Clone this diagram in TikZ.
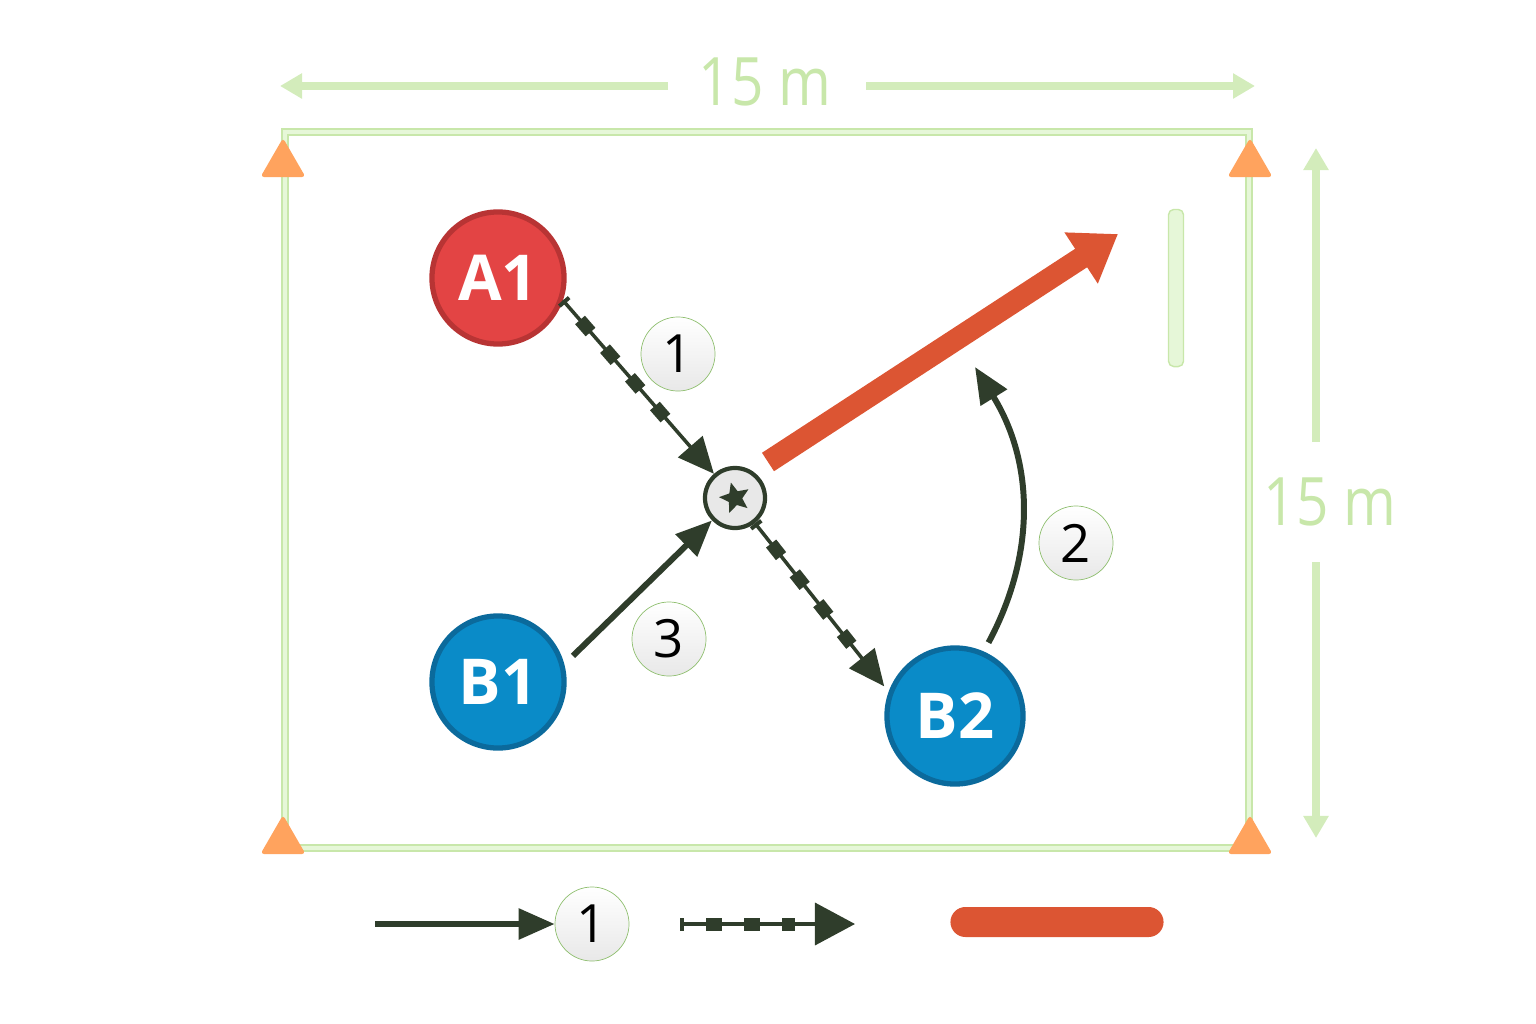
\documentclass[tikz,border=0pt]{standalone}
\usepackage{fontspec}
\setmainfont{Open Sans}
\usepackage{xcolor}
\usepackage{tikz}
\usetikzlibrary{arrows.meta,shapes.geometric}

\definecolor{ink}{HTML}{2F3D2B}
\definecolor{redP}{HTML}{E34444}
\definecolor{redD}{HTML}{B83434}
\definecolor{blueP}{HTML}{0A8BC8}
\definecolor{blueD}{HTML}{0B6A9C}
\definecolor{coneO}{HTML}{FFA35E}
\definecolor{fieldG}{HTML}{C8E7AA}
\definecolor{paleG}{HTML}{E6F7D8}
\definecolor{shotR}{HTML}{DC5533}
\definecolor{ringG}{HTML}{8FBF6F}

\begin{document}
\begin{tikzpicture}[x=0.01cm, y=-0.01cm,
    player/.style={circle, minimum size=1.32cm, inner sep=0pt, line width=1.5pt,
        text=white, font=\fontsize{18}{18}\selectfont\bfseries},
    numlab/.style={circle, minimum size=0.74cm, inner sep=0pt, draw=ringG, very thin,
        top color=white, bottom color=black!9, font=\fontsize{15}{15}\selectfont},
    ballnode/.style={circle, minimum size=0.6cm, inner sep=0pt, draw=ink,
        line width=1.2pt, fill=black!9},
    cone/.style={regular polygon, regular polygon sides=3, minimum size=0.52cm,
        inner sep=0pt, fill=coneO, rounded corners=1pt},
    field/.style={draw=fieldG, double=paleG, line width=0.5pt, double distance=1.2pt},
    dim/.style={fieldG!80, line width=2.2pt, -{Triangle[length=0.22cm,width=0.24cm]}},
    dimtext/.style={text=fieldG, font=\fontsize{19}{19}\selectfont, xscale=0.85, inner sep=0pt},
    pass/.style={ink, line width=1.7pt, -{Triangle[length=0.36cm,width=0.3cm]}},
    chain/.style={ink, line width=1pt, -{Triangle[length=0.36cm,width=0.32cm]},
        postaction={draw=ink, arrows=-, line width=0.13cm, line join=round,
        dash pattern=on 0.16cm off 0.22cm, dash phase=0.12cm, shorten >=0.6cm}},
    shot/.style={shotR, line width=0.22cm, -{Triangle[length=0.44cm,width=0.58cm]}},
    gate/.style={rectangle, minimum width=0.15cm, minimum height=1.57cm, inner sep=0pt,
        rounded corners=1.5pt, fill=paleG, draw=fieldG},
    redbar/.style={rectangle, minimum width=2.13cm, minimum height=0.3cm, inner sep=0pt,
        rounded corners=0.15cm, fill=shotR}]
\useasboundingbox (0,0) rectangle (1536,1024);

% pitch and cones
\draw[field] (285,132) rectangle (1249,848);
\node[cone] (k1) at (283,164) {};
\node[cone] (k2) at (1250,164) {};
\node[cone] (k3) at (283,841) {};
\node[cone] (k4) at (1250,841) {};

% size of the pitch
\node[dimtext] (w) at (765,82) {15 m};
\coordinate (wL) at (280,86);  \coordinate (wl) at (668,86);
\coordinate (wr) at (866,86);  \coordinate (wR) at (1255,86);
\draw[dim] (wl) -- (wL);
\draw[dim] (wr) -- (wR);
\node[dimtext] (h) at (1330,502) {15 m};
\coordinate (hT) at (1316,148); \coordinate (ht) at (1316,442);
\coordinate (hb) at (1316,562); \coordinate (hB) at (1316,838);
\draw[dim] (ht) -- (hT);
\draw[dim] (hb) -- (hB);

% small goal
\node[gate] (goal) at (1176,288) {};

% players and ball
\node[player, fill=redP, draw=redD] (A1) at (498,278) {A1};
\node[player, fill=blueP, draw=blueD] (B1) at (498,682) {B1};
\node[player, fill=blueP, draw=blueD, minimum size=1.36cm] (B2) at (955,716) {B2};
\node[ballnode] (ball) at (735,498) {};
\node[star, star points=5, star point ratio=2.2, fill=ink, minimum size=0.32cm,
    inner sep=0pt, rotate=15] (spot) at (ball) {};

% actions
\draw[chain] (A1.-19) -- (ball);
\draw[chain, shorten >=2pt] (ball) -- (B2.160);
\draw[pass, shorten <=0.12cm] (B1.15) -- (ball);
\coordinate (run) at (975,367);
\draw[pass, shorten <=0.1cm] (B2.66) to[bend right=30] (run);
\coordinate (s0) at (768,462);
\coordinate (s1) at (1118,234);
\draw[shot] (s0) -- (s1);

\node[numlab] (n1) at (678,354) {1};
\node[numlab] (n2) at (1076,543) {2};
\node[numlab] (n3) at (669,639) {3};

% legend
\node[numlab] (lg1) at (592,924) {1};
\coordinate (lg0) at (375,924);
\draw[pass] (lg0) -- (lg1);
\coordinate (lg2) at (680,924);
\coordinate (lg3) at (855,924);
\draw[chain, -{Triangle[length=0.4cm,width=0.42cm]}] (lg2) -- (lg3);
\node[redbar] (lg4) at (1057,922) {};
\end{tikzpicture}
\end{document}
